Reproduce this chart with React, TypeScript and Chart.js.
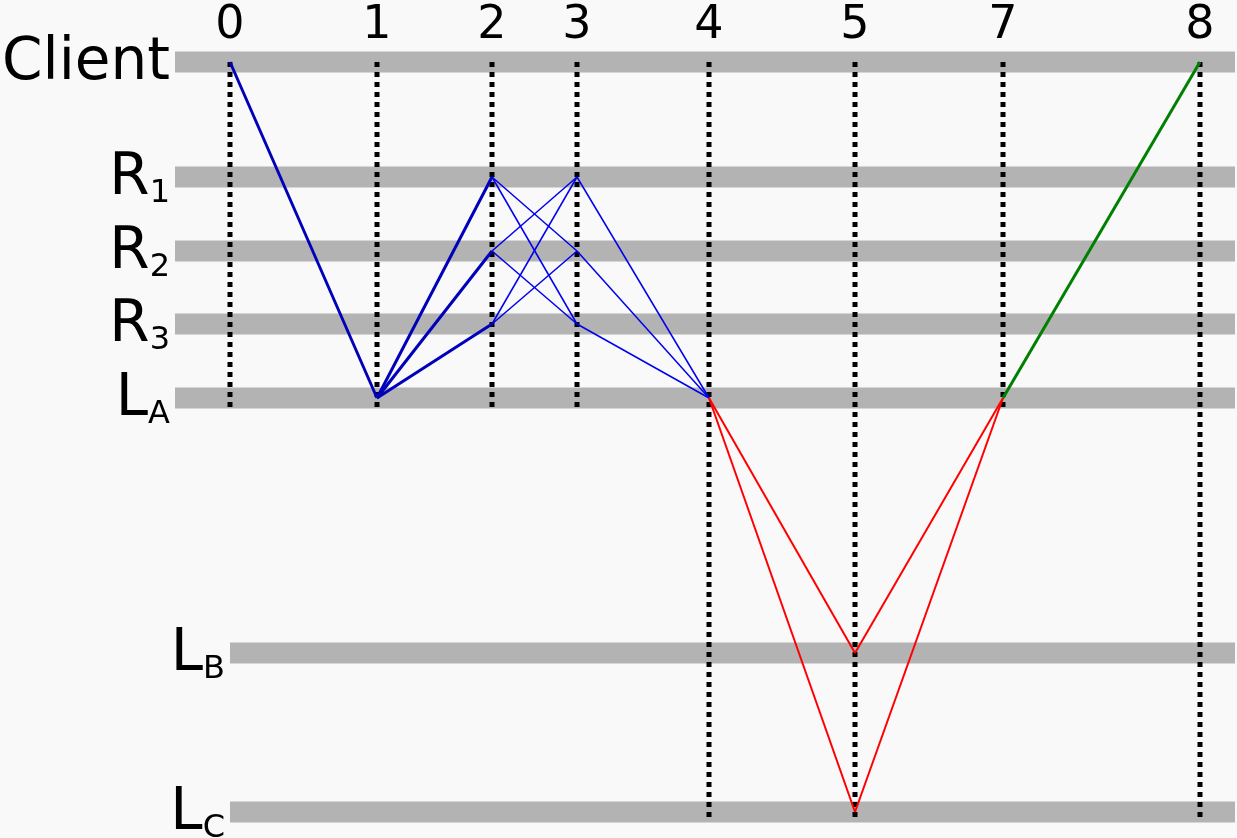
import React, { useRef, useEffect } from 'react';
import { Chart, registerables } from 'chart.js';

Chart.register(...registerables);

// time steps and where each sits on the horizontal axis
const times = [0, 1, 2, 3, 4, 5, 7, 8];
const timeX = [230, 377, 492, 577, 709, 855, 1003, 1200];
// how far down each dotted time line goes (lane name)
const timeEnd = ['LA', 'LA', 'LA', 'LA', 'LC', 'LC', 'LA', 'LC'];

// lanes: name, main text, subscript, vertical position, start of bar
const laneNames = ['Client', 'R1', 'R2', 'R3', 'LA', 'LB', 'LC'];
const laneMain = ['Client', 'R', 'R', 'R', 'L', 'L', 'L'];
const laneSub = ['', '1', '2', '3', 'A', 'B', 'C'];
const laneY = [62, 177, 251, 324, 398, 653, 812];
const laneStart = [175, 175, 175, 175, 175, 230, 230];

// messages: [fromLane, fromTime, toLane, toTime]
const thickBlue: [string, number, string, number][] = [
  ['Client', 0, 'LA', 1], ['LA', 1, 'R1', 2], ['LA', 1, 'R2', 2], ['LA', 1, 'R3', 2],
];
const thinBlue: [string, number, string, number][] = [
  ['R1', 2, 'R2', 3], ['R1', 2, 'R3', 3], ['R2', 2, 'R1', 3], ['R2', 2, 'R3', 3],
  ['R3', 2, 'R1', 3], ['R3', 2, 'R2', 3], ['R1', 3, 'LA', 4], ['R2', 3, 'LA', 4], ['R3', 3, 'LA', 4],
];
const redMsgs: [string, number, string, number][] = [
  ['LA', 4, 'LB', 5], ['LA', 4, 'LC', 5], ['LB', 5, 'LA', 7], ['LC', 5, 'LA', 7],
];
const greenMsgs: [string, number, string, number][] = [['LA', 7, 'Client', 8]];

const ly = (n: string) => laneY[laneNames.indexOf(n)];
const tx = (t: number) => timeX[times.indexOf(t)];

const labelPlugin = {
  id: 'labels',
  afterDraw(chart: any) {
    const { ctx, scales } = chart;
    const x = scales.x, y = scales.y;
    ctx.save();
    ctx.fillStyle = '#000';
    ctx.textBaseline = 'middle';
    ctx.font = '46px "DejaVu Sans"';
    ctx.textAlign = 'center';
    times.forEach((t, i) => ctx.fillText(String(t), x.getPixelForValue(timeX[i]), 26));
    laneNames.forEach((_, i) => {
      const py = y.getPixelForValue(laneY[i]);
      const right = laneStart[i] - 5;
      ctx.font = '32px "DejaVu Sans"';
      const sw = laneSub[i] ? ctx.measureText(laneSub[i]).width : 0;
      ctx.textAlign = 'left';
      if (laneSub[i]) ctx.fillText(laneSub[i], right - sw, py + 17);
      ctx.font = '58px "DejaVu Sans"';
      ctx.textAlign = 'right';
      ctx.fillText(laneMain[i], right - sw, py + 2);
    });
    ctx.restore();
  },
};

const msgSet = (list: [string, number, string, number][], color: string, width: number) =>
  list.map((m) => ({
    data: [{ x: tx(m[1]), y: ly(m[0]) }, { x: tx(m[3]), y: ly(m[2]) }],
    borderColor: color, borderWidth: width, showLine: true, pointRadius: 0,
  }));

export default function App() {
  const canvasRef = useRef<HTMLCanvasElement>(null);

  useEffect(() => {
    document.body.style.margin = '0';
    document.body.style.background = '#f9f9f9';
    const ctx = canvasRef.current?.getContext('2d');
    if (!ctx) return;

    const dotted = times.map((t, i) => ({
      data: [{ x: timeX[i], y: laneY[0] }, { x: timeX[i], y: ly(timeEnd[i]) + 10 }],
      borderColor: '#000', borderWidth: 5, borderDash: [5, 5], showLine: true, pointRadius: 0,
    }));
    const lanes = laneNames.map((_, i) => ({
      data: [{ x: laneStart[i], y: laneY[i] }, { x: 1235, y: laneY[i] }],
      borderColor: '#b3b3b3', borderWidth: 21, borderCapStyle: 'butt', showLine: true, pointRadius: 0,
    }));

    const chart = new Chart(ctx, {
      type: 'scatter',
      data: {
        datasets: [
          ...msgSet(greenMsgs, '#008000', 3),
          ...msgSet(redMsgs, '#ff0000', 2),
          ...msgSet(thinBlue, '#0000ee', 1.5),
          ...msgSet(thickBlue, '#0000bb', 3),
          ...dotted,
          ...lanes,
        ] as any,
      },
      options: {
        animation: false,
        responsive: false,
        layout: { padding: 0 },
        plugins: { legend: { display: false }, tooltip: { enabled: false } },
        scales: {
          x: { type: 'linear', display: false, min: 0, max: 1237 },
          y: { type: 'linear', display: false, min: 0, max: 838, reverse: true },
        },
      },
      plugins: [labelPlugin],
    });

    return () => chart.destroy();
  }, []);

  return <canvas ref={canvasRef} width={1237} height={838} style={{ display: 'block', background: '#f9f9f9' }} />;
}
